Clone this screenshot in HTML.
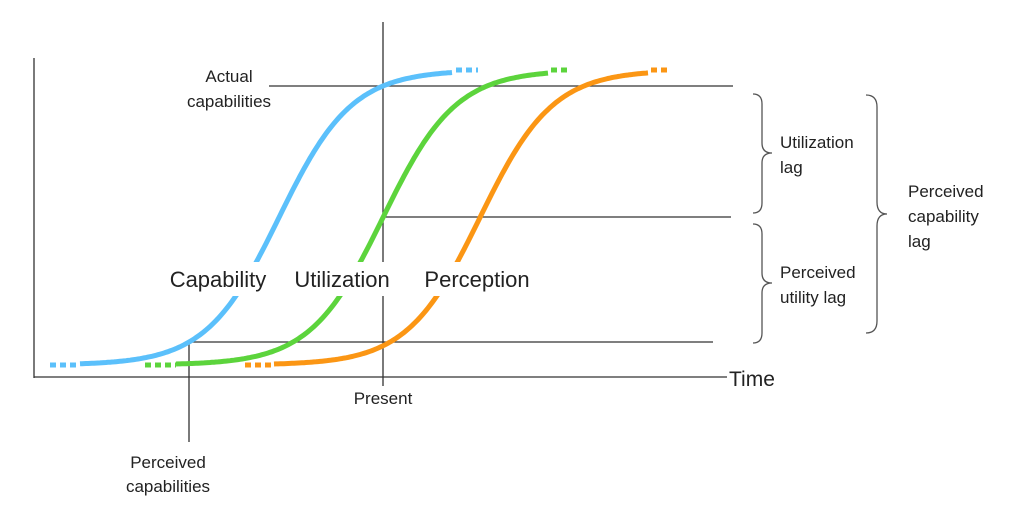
<!DOCTYPE html>
<html><head><meta charset="utf-8"><style>
html,body{margin:0;padding:0;background:#fff;width:1024px;height:520px;overflow:hidden}
text{font-family:"Liberation Sans",sans-serif;fill:#222}
</style></head><body>
<svg id="s" width="1024" height="520" viewBox="0 0 1024 520" xmlns="http://www.w3.org/2000/svg">
<g stroke="#333" stroke-width="1.3" fill="none">
<line x1="34" y1="58" x2="34" y2="378"/>
<line x1="34" y1="377" x2="727" y2="377"/>
<line x1="383" y1="22" x2="383" y2="386"/>
<line x1="269" y1="86" x2="733" y2="86"/>
<line x1="383" y1="217" x2="731" y2="217"/>
<line x1="189" y1="342" x2="713" y2="342"/>
<line x1="189" y1="342" x2="189" y2="442"/>
</g>
<g id="curves" fill="none" stroke-width="5"></g>
<g fill="#fff">
<rect x="160" y="262" width="115" height="34"/>
<rect x="290" y="262" width="100" height="34"/>
<rect x="418" y="262" width="120" height="34"/>
</g>
<g stroke="#555" stroke-width="1.3" fill="none">
<path d="M753,94 Q762,94 762,104 L762,143 Q762,153 772,153 Q762,153 762,163 L762,203 Q762,213 753,213"/>
<path d="M753,224 Q762,224 762,234 L762,273 Q762,283 772,283 Q762,283 762,293 L762,333 Q762,343 753,343"/>
<path d="M866,95 Q877,95 877,107 L877,202 Q877,214 887,214 Q877,214 877,226 L877,321 Q877,333 866,333"/>
</g>
<text x="229" y="82" font-size="17" text-anchor="middle">Actual</text>
<text x="229" y="107" font-size="17" text-anchor="middle">capabilities</text>
<text x="218" y="287" font-size="22" text-anchor="middle">Capability</text>
<text x="342" y="287" font-size="22" text-anchor="middle">Utilization</text>
<text x="477" y="287" font-size="22" text-anchor="middle">Perception</text>
<text x="729" y="386" font-size="21">Time</text>
<text x="383" y="404" font-size="17" text-anchor="middle">Present</text>
<text x="168" y="468" font-size="17" text-anchor="middle">Perceived</text>
<text x="168" y="492" font-size="17" text-anchor="middle">capabilities</text>
<text x="780" y="148" font-size="17">Utilization</text>
<text x="780" y="173" font-size="17">lag</text>
<text x="780" y="278" font-size="17">Perceived</text>
<text x="780" y="303" font-size="17">utility lag</text>
<text x="908" y="197" font-size="17">Perceived</text>
<text x="908" y="222" font-size="17">capability</text>
<text x="908" y="247" font-size="17">lag</text>
</svg>
<script>
var g=document.getElementById('curves');
function add(c,col,x0,x1,d0,d1){
 var p=[];for(var x=x0;x<=x1;x+=2){var y=365-295/(1+Math.exp(-(x-c)/36.4));p.push(x+','+y.toFixed(1));}
 var e=document.createElementNS('http://www.w3.org/2000/svg','polyline');
 e.setAttribute('points',p.join(' '));e.setAttribute('stroke',col);g.appendChild(e);
 var a=document.createElementNS('http://www.w3.org/2000/svg','line');
 a.setAttribute('x1',d0);a.setAttribute('x2',x0);a.setAttribute('y1',365);a.setAttribute('y2',365);
 a.setAttribute('stroke',col);a.setAttribute('stroke-dasharray','6 4');g.appendChild(a);
 var b=document.createElementNS('http://www.w3.org/2000/svg','line');
 b.setAttribute('x1',x1+3);b.setAttribute('x2',d1);b.setAttribute('y1',70);b.setAttribute('y2',70);
 b.setAttribute('stroke',col);b.setAttribute('stroke-dasharray','6 4');g.appendChild(b);
}
add(279,'#5bc0fb',80,453,50,478);
add(383,'#5cd43c',176,548,145,571);
add(480,'#fb9614',274,648,245,671);
</script>
</body></html>
